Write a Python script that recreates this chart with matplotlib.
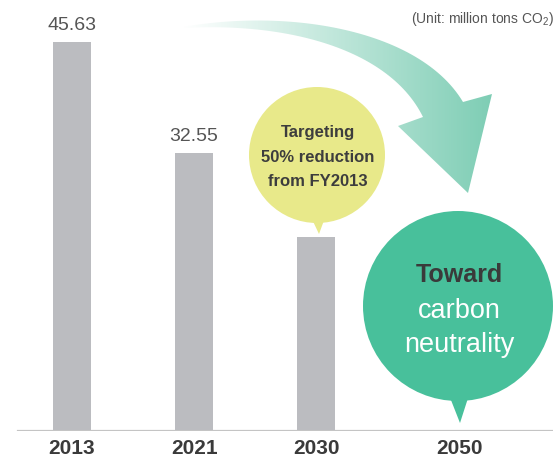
import numpy as np
import matplotlib
matplotlib.use("Agg")
import matplotlib.pyplot as plt
from matplotlib.patches import Circle, Polygon

plt.rcParams['font.family'] = ['Liberation Sans', 'DejaVu Sans']
plt.rcParams['mathtext.fontset'] = 'custom'
plt.rcParams['mathtext.rm'] = 'Liberation Sans'
plt.rcParams['mathtext.it'] = 'Liberation Sans'

# data
years = ['2013', '2021', '2030', '2050']
emissions = [45.63, 32.55, 22.8]          # 2030 = 50% cut from FY2013, no label shown
value_labels = ['45.63', '32.55', None]
unit_text = r'(Unit: million tons CO$_2$)'
target_text = 'Targeting\n50% reduction\nfrom FY2013'

W, H = 553, 459
fig = plt.figure(figsize=(W / 100, H / 100), dpi=100)

# main bar axes: baseline 28 px above the bottom edge
ax = fig.add_axes([0, 28 / H, 1, 1 - 28 / H])
xpos = [0, 1, 2, 3.17]
ax.bar(xpos[:3], emissions, width=0.31, color='#bbbcc0', zorder=2)
ax.set_xlim(-0.59, 3.94)
ax.set_ylim(0, 50.53)
ax.axhline(0, xmin=18 / W, xmax=1, color='#c4c4c4', lw=1.6, zorder=3)
for s in ax.spines.values():
    s.set_visible(False)
ax.set_yticks([])
ax.set_xticks(xpos, years)
ax.tick_params(axis='x', length=0, pad=6, labelsize=15, labelcolor='#3a3a3a')
for lab in ax.get_xticklabels():
    lab.set_fontweight('bold')
for x, v, lab in zip(xpos, emissions, value_labels):
    if lab:
        ax.annotate(lab, (x, v), xytext=(0, 8.6), textcoords='offset points',
                    ha='center', va='baseline', fontsize=14, color='#555555')

# overlay in pixel coordinates for the decorations
ov = fig.add_axes([0, 0, 1, 1], zorder=5)
ov.set_xlim(0, W)
ov.set_ylim(H, 0)
ov.axis('off')
ov.patch.set_alpha(0)

ov.text(W + 1, 19, unit_text, ha='right', va='center', fontsize=10, color='#555555')

# curved gradient arrow
def bez(p0, p1, p2, p3, n=60):
    t = np.linspace(0, 1, n)[:, None]
    p0, p1, p2, p3 = map(np.array, (p0, p1, p2, p3))
    return (1 - t) ** 3 * p0 + 3 * (1 - t) ** 2 * t * p1 + 3 * (1 - t) * t ** 2 * p2 + t ** 3 * p3

top = bez((183, 27), (290, 8), (420, 30), (463, 102))
bot = bez((183, 28), (290, 22), (390, 50), (423, 117))
head = np.array([(492, 94), (468, 193), (398, 126)])
pts = np.vstack([top, head, bot[::-1]])
arrow = Polygon(pts, closed=True, facecolor='none', edgecolor='none')
ov.add_patch(arrow)
n = 256
a = np.linspace(0, 1, n)
col = np.array([125, 205, 180]) / 255
grad = np.ones((1, n, 4))
grad[0, :, :3] = 1 - (1 - col) * a[:, None]
im = ov.imshow(grad, extent=(183, 495, 200, 5), aspect='auto', interpolation='bilinear')
im.set_clip_path(arrow)
ov.set_xlim(0, W)
ov.set_ylim(H, 0)

# yellow bubble
yel = '#e8e98a'
ov.add_patch(Circle((317, 155), 68, color=yel, lw=0))
ov.add_patch(Polygon([(310, 215), (326, 215), (319, 234)], color=yel, lw=0))
ov.text(318, 157, target_text, ha='center', va='center', fontsize=12,
        fontweight='bold', color='#3d3d3d', linespacing=1.75)

# green bubble
grn = '#48c09b'
ov.add_patch(Circle((458, 306), 95, color=grn, lw=0))
ov.add_patch(Polygon([(449, 395), (469, 395), (460, 423)], color=grn, lw=0))
ov.text(459, 275, 'Toward', ha='center', va='center', fontsize=18,
        fontweight='bold', color='#3a3a3a')
ov.text(459, 311, 'carbon', ha='center', va='center', fontsize=19.5, color='white')
ov.text(459, 345, 'neutrality', ha='center', va='center', fontsize=19.5, color='white')

fig.savefig('out.png', dpi=100)
